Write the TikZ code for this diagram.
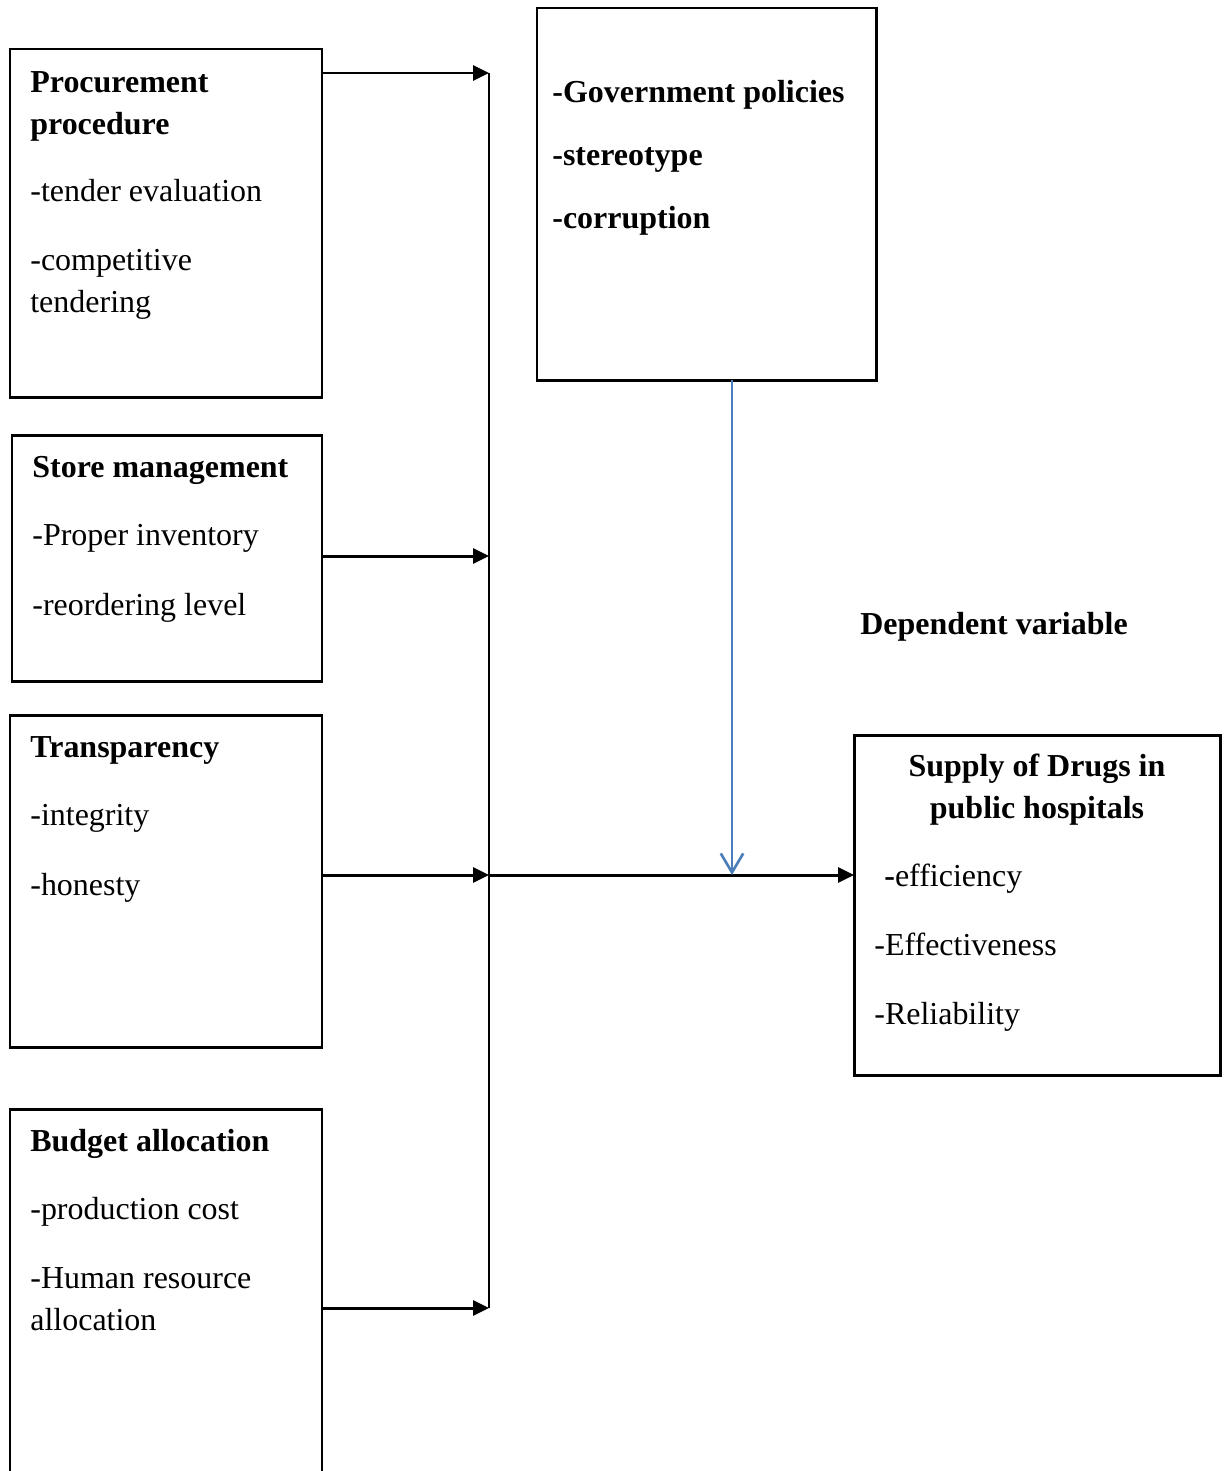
\documentclass[tikz,border=0pt]{standalone}
\usepackage{fontspec}
\setmainfont{Liberation Serif}
\usetikzlibrary{arrows.meta}
\definecolor{arrowblue}{RGB}{74,126,187}
\tikzset{
  boxline/.style={draw=black, line width=1.7pt},
  txt/.style={anchor=base west, inner sep=0pt, font=\fontsize{18.2pt}{22pt}\selectfont},
  btxt/.style={txt, font=\fontsize{18.2pt}{22pt}\selectfont\bfseries},
  ctxt/.style={anchor=base, inner sep=0pt, font=\fontsize{18.2pt}{22pt}\selectfont\bfseries},
  conn/.style={draw=black, line width=1.7pt},
  arr/.style={conn, -{Triangle[length=0.32cm,width=0.3cm]}},
  bluearr/.style={draw=arrowblue, line width=1.5pt, -{Straight Barb[length=0.38cm,width=0.45cm,line width=1.5pt]}}
}
\begin{document}
\begin{tikzpicture}[x=0.02cm,y=-0.02cm]
\useasboundingbox (0,0) rectangle (1227,1471);
% boxes
\draw[boxline] (10,49) rectangle (322,397);
\coordinate (proc) at (322,73);
\draw[boxline] (12,435) rectangle (322,681);
\coordinate (store) at (322,556);
\draw[boxline] (10,715) rectangle (322,1047);
\coordinate (trans) at (322,875);
\draw[boxline] (10,1471) -- (10,1109) -- (322,1109) -- (322,1471);
\coordinate (budg) at (322,1308);
\draw[boxline] (537,8) rectangle (876,380);
\coordinate (gov) at (732,380);
\draw[boxline] (854,735) rectangle (1220,1075);
\coordinate (supp) at (854,875);
% bus
\coordinate (b1) at (489,73);
\coordinate (b2) at (489,556);
\coordinate (b3) at (489,875);
\coordinate (b4) at (489,1308);
\coordinate (mid) at (732,875);
% texts
\node[btxt] (t1) at (30,92) {Procurement};
\node[btxt] (t2) at (30,134) {procedure};
\node[txt] (t3) at (30,201) {-tender evaluation};
\node[txt] (t4) at (30,270) {-competitive};
\node[txt] (t5) at (30,312) {tendering};
\node[btxt] (s1) at (32,477) {Store management};
\node[txt] (s2) at (32,545) {-Proper inventory};
\node[txt] (s3) at (32,615) {-reordering level};
\node[btxt] (r1) at (30,757) {Transparency};
\node[txt] (r2) at (30,825) {-integrity};
\node[txt] (r3) at (30,895) {-honesty};
\node[btxt] (u1) at (30,1151) {Budget allocation};
\node[txt] (u2) at (30,1219) {-production cost};
\node[txt] (u3) at (30,1288) {-Human resource};
\node[txt] (u4) at (30,1330) {allocation};
\node[btxt] (g1) at (552,102) {-Government policies};
\node[btxt] (g2) at (552,165) {-stereotype};
\node[btxt] (g3) at (552,228) {-corruption};
\node[btxt] (dv) at (860,634) {Dependent variable};
\node[ctxt] (p1) at (1037,776) {Supply of Drugs in};
\node[ctxt] (p2) at (1037,818) {public hospitals};
\node[txt] (p3) at (884,886) {\textbf{-}efficiency};
\node[txt] (p4) at (874,955) {-Effectiveness};
\node[txt] (p5) at (874,1024) {-Reliability};
% connectors
\draw[arr] (proc) -- (b1);
\draw[arr] (store) -- (b2);
\draw[arr] (trans) -- (b3);
\draw[arr] (budg) -- (b4);
\draw[conn] (b1) -- (b4);
\draw[arr] (b3) -- (supp);
\draw[bluearr] (gov) -- (mid);
\end{tikzpicture}
\end{document}
